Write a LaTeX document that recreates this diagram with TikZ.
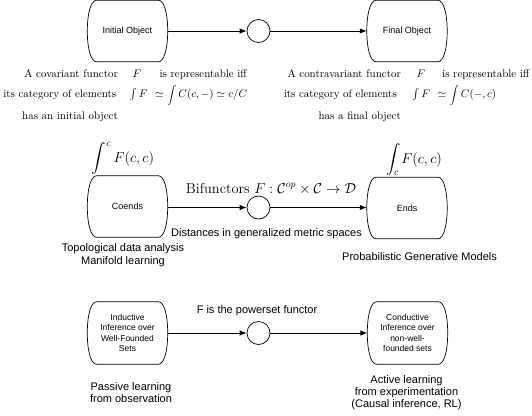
\documentclass[tikz,border=0pt]{standalone}
\usepackage{amsmath,amssymb}
\usepackage{exscale}
\usepackage{fontspec}
\newfontfamily\hv{Liberation Sans}
\usetikzlibrary{arrows.meta,calc}
\tikzset{
  obj/.style={minimum width=80pt, minimum height=61pt, inner sep=0pt, align=center, font=\hv\fontsize{9}{11}\selectfont},
  objs/.style={obj, minimum height=62pt, font=\hv\fontsize{8.5}{10.1}\selectfont},
  junc/.style={circle, draw, minimum size=23pt, inner sep=0pt, line width=0.7pt},
  arr/.style={-{Latex[length=7pt,width=5.5pt]}, line width=1pt},
  boxline/.style={line width=0.7pt},
  serif/.style={inner sep=0pt, font=\fontsize{10.95}{13}\selectfont},
  bigserif/.style={inner sep=0pt, font=\fontsize{14.4}{17}\selectfont},
  sans/.style={inner sep=0pt, font=\hv\fontsize{11}{13}\selectfont},
}
\newcommand\sideround[1]{%
\draw[boxline] ([xshift=9pt]#1.north west) -- ([xshift=-9pt]#1.north east)
 .. controls ([xshift=-4pt]#1.north east) and ([yshift=-12pt]#1.north east) .. (#1.east)
 .. controls ([yshift=12pt]#1.south east) and ([xshift=-4pt]#1.south east) .. ([xshift=-9pt]#1.south east)
 -- ([xshift=9pt]#1.south west)
 .. controls ([xshift=4pt]#1.south west) and ([yshift=12pt]#1.south west) .. (#1.west)
 .. controls ([yshift=-12pt]#1.north west) and ([xshift=4pt]#1.north west) .. cycle;}
\newcommand\myshortint{\smash{\fontsize{9}{11}\selectfont$\displaystyle\int$}}
\begin{document}
\begin{tikzpicture}[x=1pt,y=-1pt]
\useasboundingbox (0,0) rectangle (532,415);
% Row 1
\node[obj] (init) at (127.5,31) {Initial Object};
\node[junc] (j1) at (258.5,31) {};
\node[obj] (final) at (407,31) {Final Object};
\sideround{init}\sideround{final}
\draw[arr] (init.east) -- (j1.west);
\draw[arr] (j1.east) -- (final.west);
% left text block
\node[serif, anchor=base east] (l11) at (118,77) {A covariant functor};
\node[serif, anchor=base] (l12) at (137,77) {$F$};
\node[serif, anchor=base west] (l13) at (159.5,77) {is representable iff};
\node[serif, anchor=base east] (l21) at (116.5,97.5) {its category of elements};
\node[serif, anchor=base] (l22) at (138.5,97.5) {$\int F$};
\node[serif, anchor=base west] (l23) at (155,97.5) {$\simeq$ \myshortint$\,C(c,-) \simeq c/C$};
\node[serif, anchor=base east] (l31) at (118,119) {has an initial object};
% right text block
\node[serif, anchor=base east] (r11) at (401,77) {A contravariant functor};
\node[serif, anchor=base] (r12) at (421,77) {$F$};
\node[serif, anchor=base west] (r13) at (442,77) {is representable iff};
\node[serif, anchor=base east] (r21) at (397,97.5) {its category of elements};
\node[serif, anchor=base] (r22) at (421,97.5) {$\int F$};
\node[serif, anchor=base west] (r23) at (437.5,97.5) {$\simeq$ \myshortint$\,C(-,c)$};
\node[serif, anchor=base east] (r31) at (401,119) {has a final object};
% Row 2
\node[bigserif, anchor=base] (coint) at (123,162) {$\displaystyle\int^c F(c,c)$};
\node[bigserif, anchor=base] (endint) at (414,163) {$\displaystyle\int_c F(c,c)$};
\node[obj] (coends) at (127.5,206.5) {Coends};
\node[junc] (j2) at (258.5,207.5) {};
\node[obj] (ends) at (407,208) {Ends};
\sideround{coends}\sideround{ends}
\draw[arr] (coends.east |- j2.west) -- (j2.west);
\draw[arr] (j2.east) -- (ends.west |- j2.east);
\node[bigserif, anchor=base] (bif) at (271,193) {Bifunctors $F:\mathcal{C}^{op}\times\mathcal{C}\to\mathcal{D}$};
\node[sans, anchor=base] (dist) at (266.5,236) {Distances in generalized metric spaces};
\node[sans, anchor=base] (tda1) at (123,251.5) {Topological data analysis};
\node[sans, anchor=base] (tda2) at (123,264.5) {Manifold learning};
\node[sans, anchor=base] (pgm) at (419.5,260) {Probabilistic Generative Models};
% Row 3
\node[objs] (induct) at (127.5,333) {Inductive\\Inference over\\Well-Founded\\Sets};
\node[junc] (j3) at (258.5,333) {};
\node[objs] (conduct) at (407.5,333) {Conductive\\Inference over\\non-well-\\founded sets};
\sideround{induct}\sideround{conduct}
\draw[arr] (induct.east) -- (j3.west);
\draw[arr] (j3.east) -- (conduct.west);
\node[sans, anchor=base] (pow) at (257,313.5) {F is the powerset functor};
\node[sans, anchor=base] (pas1) at (131,390) {Passive learning};
\node[sans, anchor=base] (pas2) at (131,402) {from observation};
\node[sans, anchor=base] (act1) at (406.5,383) {Active learning};
\node[sans, anchor=base] (act2) at (406.5,395) {from experimentation};
\node[sans, anchor=base] (act3) at (406.5,407) {(Causal inference, RL)};
\end{tikzpicture}
\end{document}
